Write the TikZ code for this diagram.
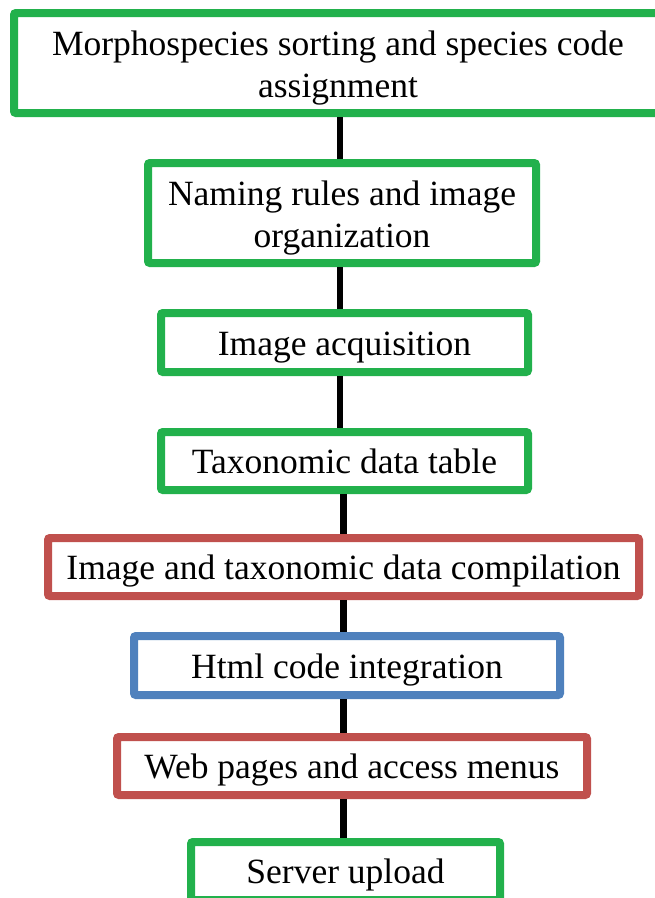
\documentclass[tikz,border=0pt]{standalone}
\usepackage{xcolor}
\definecolor{flow-green}{HTML}{22B14C}
\definecolor{flow-red}{HTML}{C0504D}
\definecolor{flow-blue}{HTML}{4F81BD}
\usepackage{fontspec}
\setmainfont{Liberation Serif}
\usepackage{tikz}

\begin{document}
\begin{tikzpicture}[x=1pt,y=-1pt,
    stage/.style={draw, line width=8pt, rounded corners=2pt, fill=white,
      align=center, inner sep=0pt, text height=30pt, text depth=5pt,
      font=\fontsize{35.5}{42}\selectfont},
    twolines/.style={text height=73pt, text depth=5pt},
    greenstage/.style={stage, draw=flow-green},
    redstage/.style={stage, draw=flow-red},
    bluestage/.style={stage, draw=flow-blue}]

    % Page frame
    \useasboundingbox (0,0) rectangle (655,898);

  % Stages
  \node[greenstage, twolines, minimum width=648, minimum height=100] (sorting) at (338,63)
    {Morphospecies sorting and species code\\assignment};
  \node[greenstage, twolines, minimum width=388, minimum height=100] (naming) at (342,213)
    {Naming rules and image\\organization};
  \node[greenstage, minimum width=367, minimum height=59] (acquisition) at (344.5,342.5)
    {Image acquisition};
  \node[greenstage, minimum width=367, minimum height=58] (datatable) at (344.5,461)
    {Taxonomic data table};
  \node[redstage, minimum width=591, minimum height=58] (compilation) at (343.5,567)
    {Image and taxonomic data compilation};
  \node[bluestage, minimum width=426, minimum height=59] (htmlcode) at (347,665.5)
    {Html code integration};
  \node[redstage, minimum width=470, minimum height=58] (webpages) at (352,766)
    {Web pages and access menus};
  \node[greenstage, minimum width=309, minimum height=58] (upload) at (345.5,871)
    {Server upload};

  % Links between the stages
  \coordinate (upperspine) at (340,0);
  \coordinate (lowerspine) at (343.5,0);
  \begin{scope}[on background layer/.try, line width=6.5pt]
  \draw (sorting.south -| upperspine) -- (naming.north -| upperspine);
  \draw (naming.south -| upperspine) -- (acquisition.north -| upperspine);
  \draw (acquisition.south -| upperspine) -- (datatable.north -| upperspine);
  \draw (datatable.south -| lowerspine) -- (compilation.north -| lowerspine);
  \draw (compilation.south -| lowerspine) -- (htmlcode.north -| lowerspine);
  \draw (htmlcode.south -| lowerspine) -- (webpages.north -| lowerspine);
  \draw (webpages.south -| lowerspine) -- (upload.north -| lowerspine);
  \end{scope}

\end{tikzpicture}
\end{document}
